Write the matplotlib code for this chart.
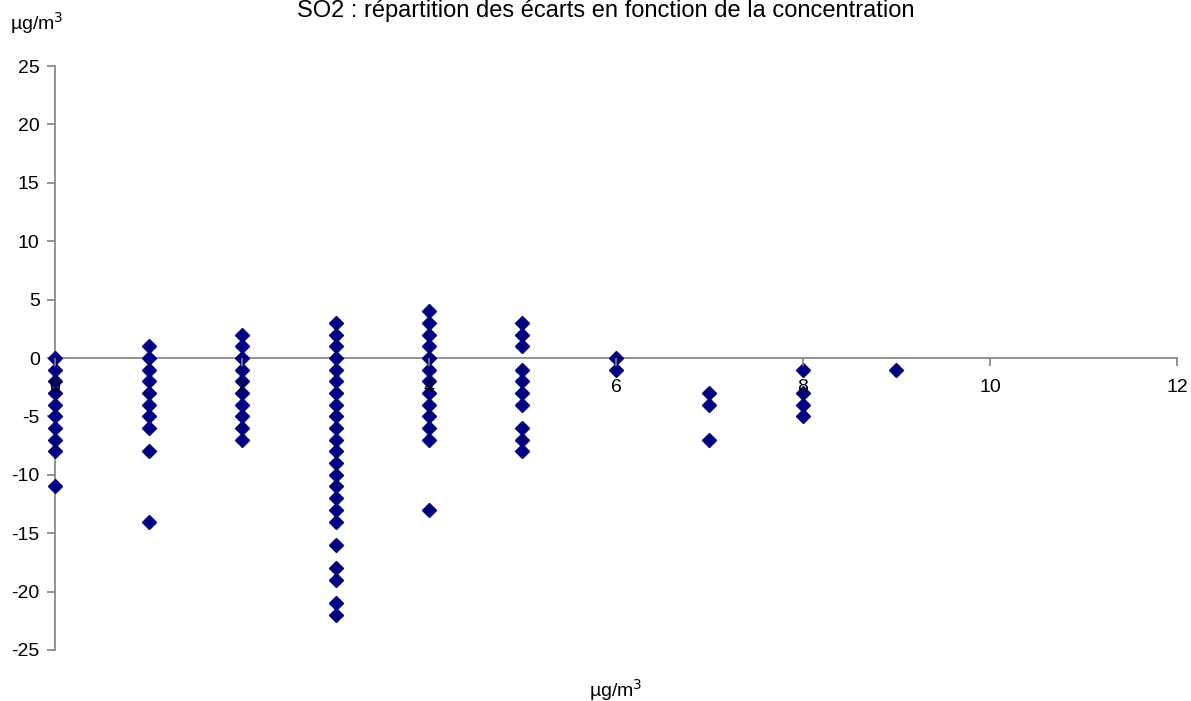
import matplotlib.pyplot as plt

plt.rcParams['font.family'] = ['Liberation Sans', 'DejaVu Sans']
plt.rcParams['axes.unicode_minus'] = False

# concentration (x) and écart (y) per group
conc_0 = [0, -1, -2, -3, -4, -5, -6, -7, -8, -11]
conc_1 = [1, 0, -1, -2, -3, -4, -5, -6, -8, -14]
conc_2 = [2, 1, 0, -1, -2, -3, -4, -5, -6, -7]
conc_3 = [3, 2, 1, 0, -1, -2, -3, -4, -5, -6, -7, -8, -9, -10, -11, -12, -13, -14,
          -16, -18, -19, -21, -22]
conc_4 = [4, 3, 2, 1, 0, -1, -2, -3, -4, -5, -6, -7, -13]
conc_5 = [3, 2, 1, -1, -2, -3, -4, -6, -7, -8]
conc_6 = [0, -1]
conc_7 = [-3, -4, -7]
conc_8 = [-1, -3, -4, -5]
conc_9 = [-1]

groups = [conc_0, conc_1, conc_2, conc_3, conc_4, conc_5, conc_6, conc_7, conc_8, conc_9]
x_vals = []
y_vals = []
for c, ecarts in enumerate(groups):
    for e in ecarts:
        x_vals.append(c)
        y_vals.append(e)

fig = plt.figure(figsize=(11.91, 7.01), dpi=100)
ax = fig.add_axes([0.0462, 0.0728, 0.9420, 0.8330])

ax.plot(x_vals, y_vals, linestyle='none', marker='D', markersize=7,
        color='#000080', zorder=2, clip_on=False)

ax.set_xlim(0, 12)
ax.set_ylim(-25, 25)
ax.set_xticks(range(0, 13, 2))
ax.set_yticks(range(-25, 26, 5))

ax.spines['top'].set_visible(False)
ax.spines['right'].set_visible(False)
ax.spines['bottom'].set_position(('data', 0))
for s in ('left', 'bottom'):
    ax.spines[s].set_color('#808080')
    ax.spines[s].set_linewidth(1.2)
    ax.spines[s].set_zorder(1.5)

ax.tick_params(axis='both', direction='out', length=6, width=1.2, color='#808080',
               labelsize=14, labelcolor='black')
ax.tick_params(axis='x', pad=9)
ax.tick_params(axis='y', pad=5)
# x tick labels sit on top of the markers
ax.xaxis.set_zorder(3)

fig.text(0.509, 1 - 17 / 701, 'SO2 : répartition des écarts en fonction de la concentration',
         ha='center', va='baseline', fontsize=17)
fig.text(0.031, 0.967, 'µg/m$^3$', ha='center', va='center', fontsize=14)
fig.text(0.517, 0.016, 'µg/m$^3$', ha='center', va='center', fontsize=14)

fig.savefig('out.png', dpi=100)
